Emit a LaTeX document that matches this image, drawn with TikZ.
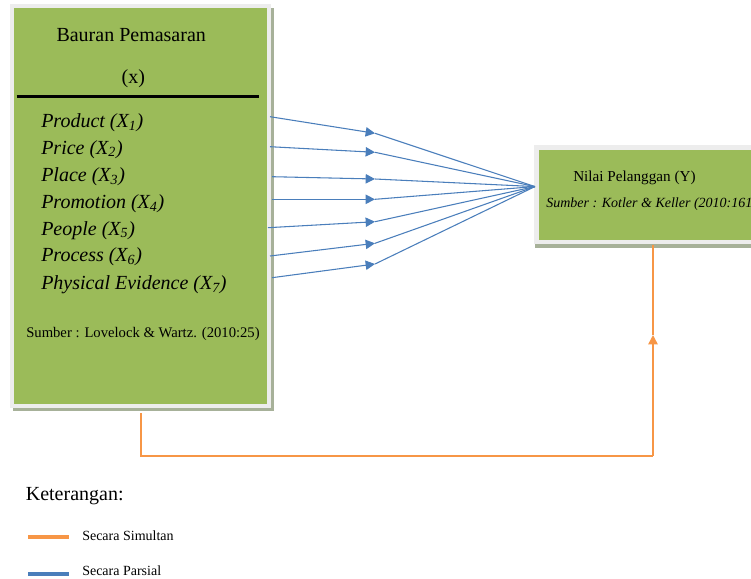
\documentclass[tikz,border=0pt]{standalone}
\usepackage{fontspec}
\setmainfont{Liberation Serif}
\usetikzlibrary{arrows.meta,positioning}
\definecolor{hijau}{HTML}{9BBB59}
\definecolor{biru}{HTML}{4A7EBB}
\definecolor{oranye}{HTML}{F79646}
\definecolor{bingkai}{HTML}{EDEDED}
\definecolor{bayangan}{HTML}{A7B199}
\tikzset{
  besar/.style={font=\fontsize{15}{18}\selectfont},
  faktor/.style={font=\fontsize{15}{18}\selectfont\itshape, anchor=base west, inner sep=0pt},
  teks/.style={anchor=base west, inner sep=0pt},
  kotak/.style={fill=hijau, inner sep=0pt, anchor=north west},
  parsial/.style={draw=biru, line width=0.8pt},
  simultan/.style={draw=oranye, line width=1.1pt},
  ujung/.style={-{Triangle[length=7pt,width=7pt]}},
}
\begin{document}
\begin{tikzpicture}[x=0.75pt,y=-0.75pt]
    \clip (0,0) rectangle (751,579);
    % kotak bauran pemasaran
    \fill[bayangan] (13,8) rectangle (273.5,410.5);
    \fill[bingkai] (10,4) rectangle (270.5,407.5);
    \node[kotak, minimum width=189.5pt, minimum height=297pt] (bauran) at (14,7.3) {};
    \node[besar, anchor=base] (judul) at (131.2,41.7) {Bauran Pemasaran};
    \node[besar, anchor=base] (varx) at (133.3,83) {(x)};
    \draw[line width=2.5pt] (16.7,96.7) -- (259.3,96.7);
    \node[faktor] (x1) at (41,127.7) {Product (X\textsubscript{1})};
    \node[faktor] (x2) at (41,154) {Price (X\textsubscript{2})};
    \node[faktor] (x3) at (41,181.7) {Place (X\textsubscript{3})};
    \node[faktor] (x4) at (41,208.3) {Promotion (X\textsubscript{4})};
    \node[faktor] (x5) at (41,235) {People (X\textsubscript{5})};
    \node[faktor] (x6) at (41,261.7) {Process (X\textsubscript{6})};
    \node[faktor] (x7) at (41,289.3) {Physical Evidence (X\textsubscript{7})};
    \node[teks, font=\fontsize{11}{13}\selectfont] (sumberx) at (26,337.7) {Sumber : Lovelock \& Wartz. (2010:25)};
    % kotak nilai pelanggan
    \fill[bayangan] (535,148) rectangle (760,248);
    \fill[bingkai] (534,145) rectangle (760,244.3);
    \node[kotak, minimum width=166.3pt, minimum height=67.5pt] (nilai) at (538.3,149.3) {};
    \node[teks, font=\fontsize{11.4}{13}\selectfont] (judulY) at (573,181) {Nilai Pelanggan (Y)};
    \node[teks, font=\fontsize{10.5}{12}\selectfont\itshape] (sumbery) at (546,207) {Sumber : Kotler \& Keller (2010:161)};
    % secara parsial
    \coordinate (temu) at ([xshift=-2.5pt,yshift=6pt]nilai.west);
    \coordinate (a1) at (270,116.7); \coordinate (b1) at (375,133.3);
    \coordinate (a2) at (270,146.7); \coordinate (b2) at (375,152.3);
    \coordinate (a3) at (272,176.7); \coordinate (b3) at (375,179);
    \coordinate (a4) at (272,199.3); \coordinate (b4) at (375,199.3);
    \coordinate (a5) at (268,227.7); \coordinate (b5) at (375,221.7);
    \coordinate (a6) at (270,256);   \coordinate (b6) at (375,243.3);
    \coordinate (a7) at (272,277.7); \coordinate (b7) at (375,264);
    \draw[parsial, ujung] (a1) -- (b1); \draw[parsial] (b1) -- (temu);
    \draw[parsial, ujung] (a2) -- (b2); \draw[parsial] (b2) -- (temu);
    \draw[parsial, ujung] (a3) -- (b3); \draw[parsial] (b3) -- (temu);
    \draw[parsial, ujung] (a4) -- (b4); \draw[parsial] (b4) -- (temu);
    \draw[parsial, ujung] (a5) -- (b5); \draw[parsial] (b5) -- (temu);
    \draw[parsial, ujung] (a6) -- (b6); \draw[parsial] (b6) -- (temu);
    \draw[parsial, ujung] (a7) -- (b7); \draw[parsial] (b7) -- (temu);
    % secara simultan
    \coordinate (o1) at (141,413);
    \coordinate (sudut) at (653,456);
    \coordinate (o2) at (653,335);
    \draw[simultan] (o1) |- (sudut);
    \draw[simultan, ujung] (sudut) -- (o2);
    \draw[simultan] (o2) -- ([yshift=-3.5pt]nilai.south -| o2);
    % keterangan
    \node[teks, font=\fontsize{15}{18}\selectfont] (ket) at (25.6,500) {Keterangan:};
    \draw[oranye, line width=3pt] (28,537) -- (69,537);
    \node[teks, font=\fontsize{10.5}{12}\selectfont] (simul) at (82,540) {Secara Simultan};
    \draw[biru, line width=3pt] (28,574) -- (69,574);
    \node[teks, font=\fontsize{10.5}{12}\selectfont] (pars) at (82,575) {Secara Parsial};
\end{tikzpicture}
\end{document}
